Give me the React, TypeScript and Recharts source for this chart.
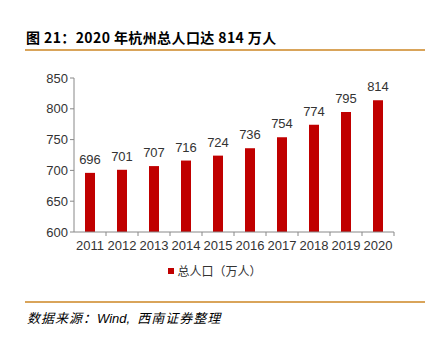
import React from "react";
import { BarChart, Bar, XAxis, YAxis, LabelList } from "recharts";

const years = ["2011", "2012", "2013", "2014", "2015", "2016", "2017", "2018", "2019", "2020"];
const population = [696, 701, 707, 716, 724, 736, 754, 774, 795, 814];
const yTicks = [600, 650, 700, 750, 800, 850];
const seriesName = "总人口（万人）";

const data = years.map((y, i) => ({ year: y, pop: population[i] }));

const BAND = 32;
const NUM_FONT = "Liberation Sans, Arial, sans-serif";

const XTick = (props: any) => {
  const { x, y, payload } = props;
  return (
    <g>
      <line x1={x + BAND / 2} y1={y - 8} x2={x + BAND / 2} y2={y - 4} stroke="#888" strokeWidth={1} />
      <text x={x} y={y + 10} textAnchor="middle" fill="#333" fontSize={13} fontFamily={NUM_FONT}>
        {payload.value}
      </text>
    </g>
  );
};

export default function App() {
  return (
    <div style={{ position: "absolute", left: 0, top: 0, width: 430, height: 337, background: "#fff" }}>
      <div
        style={{
          position: "absolute",
          left: 26,
          top: 28,
          fontFamily: "Noto Sans CJK SC, Liberation Sans, sans-serif",
          fontWeight: "bold",
          fontSize: 14,
          letterSpacing: 0.4,
          color: "#000",
          whiteSpace: "nowrap",
          lineHeight: "18px",
        }}
      >
        图 21：2020 年杭州总人口达 814 万人
      </div>
      <div style={{ position: "absolute", left: 25, top: 49, width: 400, height: 2, background: "#D9A45A" }} />
      <div style={{ position: "absolute", left: 0, top: 0 }}>
        <BarChart
          width={430}
          height={337}
          data={data}
          margin={{ top: 78, right: 36, bottom: 85, left: 34 }}
          barSize={10}
        >
          <XAxis
            dataKey="year"
            axisLine={{ stroke: "#888" }}
            tickLine={false}
            tick={<XTick />}
            interval={0}
            height={20}
          />
          <YAxis
            domain={[600, 850]}
            ticks={yTicks}
            width={40}
            axisLine={{ stroke: "#888" }}
            tickLine={{ stroke: "#888" }}
            tickSize={4}
            tick={{ fill: "#333", fontSize: 13, fontFamily: NUM_FONT }}
          />
          <Bar dataKey="pop" name={seriesName} fill="#C00000" isAnimationActive={false}>
            <LabelList
              dataKey="pop"
              position="top"
              offset={9}
              fill="#333"
              fontSize={13}
              fontFamily={NUM_FONT}
            />
          </Bar>
        </BarChart>
      </div>
      <div
        style={{
          position: "absolute",
          left: 0,
          top: 263,
          width: 430,
          display: "flex",
          alignItems: "center",
          justifyContent: "center",
          fontFamily: "Noto Sans CJK SC",
          fontSize: 12,
          color: "#333",
          lineHeight: "16px",
        }}
      >
        <span style={{ display: "inline-block", width: 6, height: 6, background: "#C00000", marginRight: 3 }} />
        <span>{seriesName}</span>
      </div>
      <div style={{ position: "absolute", left: 25, top: 301, width: 400, height: 2, background: "#D9A45A" }} />
      <div
        style={{
          position: "absolute",
          left: 27,
          top: 310,
          fontFamily: "Noto Sans CJK SC, Liberation Sans, sans-serif",
          fontStyle: "italic",
          fontSize: 13,
          letterSpacing: 1,
          color: "#000",
          whiteSpace: "nowrap",
          lineHeight: "16px",
        }}
      >
        数据来源：<span style={{ fontFamily: NUM_FONT, letterSpacing: 0 }}>Wind,&nbsp;&nbsp;</span>西南证券整理
      </div>
    </div>
  );
}
